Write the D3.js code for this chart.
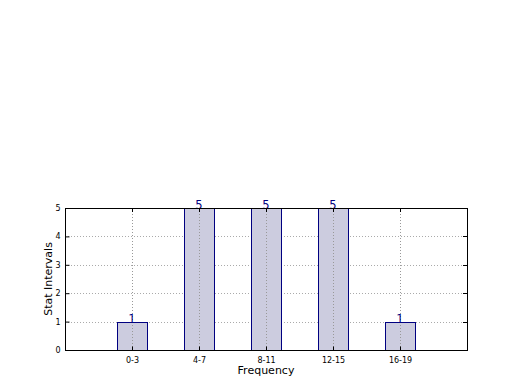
<!DOCTYPE html>
<html>
<head>
<meta charset="utf-8">
<script src="https://cdn.jsdelivr.net/npm/d3@7"></script>
<style>
  body { margin: 0; background: #fff; }
  svg { font-family: "DejaVu Sans", sans-serif; }
</style>
</head>
<body>
<div id="chart"></div>
<script>
const categories = ["0-3", "4-7", "8-11", "12-15", "16-19"];
const counts = [1, 5, 5, 5, 1];
const yTicks = [0, 1, 2, 3, 4, 5];

const width = 520;
const height = 390;
const margin = { top: 208, right: 53, bottom: 40, left: 65 };
const iw = width - margin.left - margin.right;
const ih = height - margin.top - margin.bottom;

const svg = d3
  .select("#chart")
  .append("svg")
  .attr("width", width)
  .attr("height", height);

const g = svg
  .append("g")
  .attr("transform", `translate(${margin.left},${margin.top})`);

// index positions, xlim [-1, 5] like the original
const x = d3.scaleLinear().domain([-1, categories.length]).range([0, iw]);
const y = d3.scaleLinear().domain([0, 5]).range([ih, 0]);
const barW = 0.45;

// grid
g.append("g")
  .selectAll("line")
  .data(yTicks.slice(1, -1))
  .join("line")
  .attr("x1", 0)
  .attr("x2", iw)
  .attr("y1", (d) => Math.round(y(d)) + 0.5)
  .attr("y2", (d) => Math.round(y(d)) + 0.5)
  .attr("stroke", "#aaa")
  .attr("stroke-dasharray", "1,2");

// bars
g.append("g")
  .selectAll("rect")
  .data(counts)
  .join("rect")
  .attr("x", (d, i) => Math.round(x(i - barW / 2)) + 0.5)
  .attr("y", (d) => Math.round(y(d)) + 0.5)
  .attr("width", Math.round(x(barW) - x(0)))
  .attr("height", (d) => Math.round(y(0) - y(d)))
  .attr("fill", "#ccccdf")
  .attr("stroke", "#000080");

// vertical grid on top of bars
g.append("g")
  .selectAll("line")
  .data(categories)
  .join("line")
  .attr("x1", (d, i) => Math.round(x(i)) + 0.5)
  .attr("x2", (d, i) => Math.round(x(i)) + 0.5)
  .attr("y1", 0)
  .attr("y2", ih)
  .attr("stroke", "#999")
  .attr("stroke-dasharray", "1,2");

// value labels
g.append("g")
  .selectAll("text")
  .data(counts)
  .join("text")
  .attr("x", (d, i) => x(i))
  .attr("y", (d) => y(d) + 1)
  .attr("text-anchor", "middle")
  .attr("fill", "#000080")
  .attr("font-size", 11.5)
  .text((d) => d);

// frame
g.append("rect")
  .attr("x", 0.5)
  .attr("y", 0.5)
  .attr("width", iw)
  .attr("height", ih)
  .attr("fill", "none")
  .attr("stroke", "#000");

// axes with inward ticks
const xAxis = d3
  .axisBottom(x)
  .tickValues(d3.range(categories.length))
  .tickFormat((i) => categories[i])
  .tickSizeInner(-4)
  .tickSizeOuter(0)
  .tickPadding(7);

const yAxis = d3
  .axisLeft(y)
  .tickValues(yTicks)
  .tickFormat(d3.format("d"))
  .tickSizeInner(-4)
  .tickSizeOuter(0)
  .tickPadding(5);

const xg = g.append("g").attr("transform", `translate(0,${ih + 0.5})`).call(xAxis);
const yg = g.append("g").attr("transform", "translate(0.5,0)").call(yAxis);
[xg, yg].forEach((a) => {
  a.select(".domain").remove();
  a.selectAll("text").attr("font-size", 8).attr("fill", "#000");
  a.attr("font-family", null);
});

// mirrored ticks top and right
g.append("g")
  .selectAll("line")
  .data(d3.range(categories.length))
  .join("line")
  .attr("x1", (d) => Math.round(x(d)) + 0.5)
  .attr("x2", (d) => Math.round(x(d)) + 0.5)
  .attr("y1", 0)
  .attr("y2", 4)
  .attr("stroke", "#000");

g.append("g")
  .selectAll("line")
  .data(yTicks)
  .join("line")
  .attr("x1", iw - 4)
  .attr("x2", iw)
  .attr("y1", (d) => Math.round(y(d)) + 0.5)
  .attr("y2", (d) => Math.round(y(d)) + 0.5)
  .attr("stroke", "#000");

// axis titles
svg
  .append("text")
  .attr("x", margin.left + iw / 2)
  .attr("y", 374)
  .attr("text-anchor", "middle")
  .attr("font-size", 11)
  .text("Frequency");

svg
  .append("text")
  .attr("transform", `translate(52,${margin.top + ih / 2}) rotate(-90)`)
  .attr("text-anchor", "middle")
  .attr("font-size", 11)
  .text("Stat Intervals");
</script>
</body>
</html>
